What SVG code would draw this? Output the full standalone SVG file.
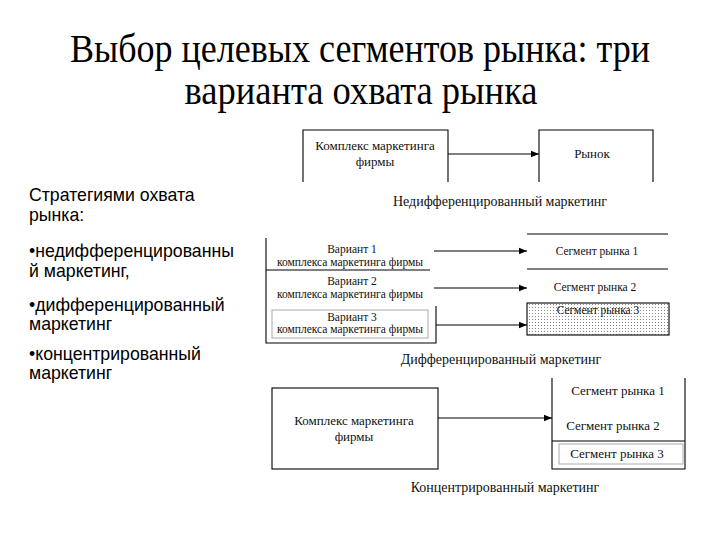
<svg xmlns="http://www.w3.org/2000/svg" width="720" height="540" viewBox="0 0 720 540">
<defs>
<style>
.title{font-family:"Liberation Serif","Times New Roman",serif;font-size:40px;fill:#000;text-anchor:middle}
.side{font-family:"Liberation Sans",Arial,sans-serif;font-size:17.7px;fill:#000}
.t13{font-family:"Liberation Serif","Times New Roman",serif;font-size:13px;fill:#111;text-anchor:middle}
.t12{font-family:"Liberation Serif","Times New Roman",serif;font-size:11.5px;fill:#111;text-anchor:middle}
.cap{font-family:"Liberation Serif","Times New Roman",serif;font-size:14px;fill:#111;text-anchor:middle}
.ln{stroke:#000;stroke-width:1.1;fill:none}
.gb{stroke:#aaa;stroke-width:1;fill:none}
.conn{stroke:#000;stroke-width:1.1;fill:none;marker-end:url(#ah)}
</style>
<marker id="ah" viewBox="0 0 10 10" refX="10" refY="5" markerWidth="8" markerHeight="8" markerUnits="userSpaceOnUse" orient="auto">
<path d="M0,1 L10,5 L0,9 Z" fill="#000"/>
</marker>
<pattern id="dots" width="3" height="3" patternUnits="userSpaceOnUse">
<rect width="3" height="3" fill="#fff"/>
<rect x="1" y="1" width="1" height="1" fill="#888"/>
</pattern>
</defs>
<rect width="720" height="540" fill="#fff"/>

<g id="title">
<text class="title" x="360" y="62" textLength="580" lengthAdjust="spacingAndGlyphs">Выбор целевых сегментов рынка: три</text>
<text class="title" x="361" y="104" textLength="353" lengthAdjust="spacingAndGlyphs">варианта охвата рынка</text>
</g>

<g id="sidebar">
<text class="side" x="29" y="201">Стратегиями охвата</text>
<text class="side" x="29" y="221">рынка:</text>
<text class="side" x="29" y="257">•недифференцированны</text>
<text class="side" x="29" y="277">й маркетинг,</text>
<text class="side" x="29" y="311">•дифференцированный</text>
<text class="side" x="29" y="330">маркетинг</text>
<text class="side" x="29" y="360">•концентрированный</text>
<text class="side" x="29" y="379">маркетинг</text>
</g>

<!-- Undifferentiated -->
<g id="u-firm">
<path class="ln" d="M303,182 V130 H448 V182"/>
<text class="t13" x="375" y="150">Комплекс маркетинга</text>
<text class="t13" x="375" y="166">фирмы</text>
</g>
<g id="u-market">
<path class="ln" d="M539,182 V130 H653 V182"/>
<text class="t13" x="592" y="158">Рынок</text>
</g>
<text class="cap" x="500" y="206">Недифференцированный маркетинг</text>

<!-- Differentiated -->
<g id="d-frame">
<path class="ln" d="M266,238 V343 H436 V306"/>
</g>
<g id="d-var1">
<line class="ln" x1="266" y1="270" x2="430" y2="270"/>
<text class="t12" x="352" y="253">Вариант 1</text>
<text class="t12" x="350" y="266">комплекса маркетинга фирмы</text>
</g>
<g id="d-var2">
<text class="t12" x="352" y="285">Вариант 2</text>
<text class="t12" x="350" y="298">комплекса маркетинга фирмы</text>
</g>
<g id="d-var3">
<rect class="gb" x="272" y="310" width="156" height="28"/>
<text class="t12" x="352" y="321">Вариант 3</text>
<text class="t12" x="350" y="333">комплекса маркетинга фирмы</text>
</g>
<g id="d-seg1">
<line class="ln" x1="527" y1="234" x2="668" y2="234"/>
<line class="ln" x1="527" y1="269" x2="668" y2="269"/>
<text class="t12" x="597" y="255">Сегмент рынка 1</text>
</g>
<g id="d-seg2">
<text class="t12" x="595" y="291">Сегмент рынка 2</text>
</g>
<g id="d-seg3">
<rect x="527" y="303" width="142" height="32" fill="url(#dots)" stroke="#000" stroke-width="1.1"/>
<text class="t12" x="598" y="314">Сегмент рынка 3</text>
</g>
<text class="cap" x="501" y="364">Дифференцированный маркетинг</text>

<!-- Concentrated -->
<g id="c-firm">
<rect class="ln" x="272" y="388" width="166" height="81"/>
<text class="t13" x="354" y="425">Комплекс маркетинга</text>
<text class="t13" x="354" y="441">фирмы</text>
</g>
<g id="c-market">
<path class="ln" d="M552,378 V469 H685 V378"/>
<line class="ln" x1="552" y1="441" x2="685" y2="441"/>
<rect class="gb" x="559" y="444" width="124" height="20"/>
<text class="t13" x="618" y="395">Сегмент рынка 1</text>
<text class="t13" x="613" y="430">Сегмент рынка 2</text>
<text class="t13" x="617" y="458">Сегмент рынка 3</text>
</g>
<text class="cap" x="505" y="492">Концентрированный маркетинг</text>

<g id="connectors">
<line class="conn" x1="448" y1="154" x2="539" y2="154"/>
<line class="conn" x1="434" y1="251" x2="527" y2="251"/>
<line class="conn" x1="434" y1="288" x2="527" y2="288"/>
<line class="conn" x1="436" y1="325" x2="527" y2="325"/>
<line class="conn" x1="438" y1="418" x2="552" y2="418"/>
</g>
</svg>
